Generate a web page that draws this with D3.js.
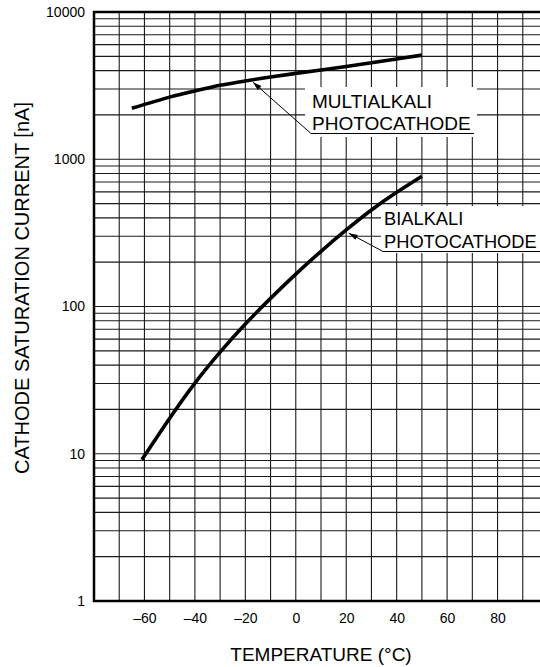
<!DOCTYPE html>
<html><head><meta charset="utf-8">
<script src="https://cdn.jsdelivr.net/npm/d3@7/dist/d3.min.js"></script>
<style>body{margin:0;background:#fff} svg{display:block;font-family:"Liberation Sans",Arial,Helvetica,sans-serif}</style>
</head><body><svg id="c" width="540" height="667"></svg>
<script>
// ---- data ----
const bialkaliTemps = [-61,-50,-40,-30,-20,-10,0,10,20,30,40,50];
const bialkaliValues = [9.1,17.4,30.2,49,76,113.5,166,237,331,452,596,767];
const multiTemps = [-65,-50,-40,-30,-20,-10,0,10,20,30,40,50];
const multiValues = [2218,2642,2911,3177,3404,3622,3828,4036,4266,4519,4797,5093];
const xTickValues = [-60,-40,-20,0,20,40,60,80];
const yTickValues = [1,10,100,1000,10000];
const xLabel = "TEMPERATURE (\u00B0C)";
const yLabel = "CATHODE SATURATION CURRENT [nA]";
const multiLabel = ["MULTIALKALI","PHOTOCATHODE"];
const biLabel = ["BIALKALI","PHOTOCATHODE"];

const svg = d3.select("#c");
const x = d3.scaleLinear().domain([-80,100]).range([94,548]);
const y = d3.scaleLog().domain([1,10000]).range([601,12]);

// grid
const vGrid = d3.range(-70,101,10);
const hGrid = [];
for (let k=0;k<4;k++) for (let m=2;m<=9;m++) hGrid.push(m*Math.pow(10,k));
const g = svg.append("g").attr("stroke","#1a1a1a").attr("stroke-width",1.1);
g.selectAll(".v").data(vGrid).join("line")
  .attr("x1",d=>x(d)).attr("x2",d=>x(d)).attr("y1",y(10000)).attr("y2",y(1));
g.selectAll(".h").data(hGrid.concat([10,100,1000])).join("line")
  .attr("x1",x(-80)).attr("x2",x(100)).attr("y1",d=>y(d)).attr("y2",d=>y(d));

// white label backgrounds
svg.append("rect").attr("x",305).attr("y",87).attr("width",172).attr("height",50).attr("fill","#fff");
svg.append("rect").attr("x",381).attr("y",206).attr("width",170).attr("height",47).attr("fill","#fff");

// curves
const line = d3.line().x(d=>x(d[0])).y(d=>y(d[1])).curve(d3.curveNatural);
svg.append("path").datum(multiTemps.map((t,i)=>[t,multiValues[i]]))
  .attr("d",line).attr("fill","none").attr("stroke","#000").attr("stroke-width",3.6);
svg.append("path").datum(bialkaliTemps.map((t,i)=>[t,bialkaliValues[i]]))
  .attr("d",line).attr("fill","none").attr("stroke","#000").attr("stroke-width",3.6);

// annotations
function annot(lines, tx, b1, b2, fs, tipT, tipV, ulEnd){
  const tipX = x(tipT), tipY = y(tipV)+3;
  const lx = tx-1, ly = b2+3.5;
  svg.append("text").attr("x",tx).attr("y",b1).attr("font-size",fs).text(lines[0]);
  svg.append("text").attr("x",tx).attr("y",b2).attr("font-size",fs).text(lines[1]);
  svg.append("path").attr("d",`M${tipX},${tipY}L${lx},${ly}L${ulEnd},${ly}`)
    .attr("fill","none").attr("stroke","#000").attr("stroke-width",1);
  const ang = Math.atan2(ly-tipY, lx-tipX);
  const L=9, W=2.8;
  const bx = tipX+L*Math.cos(ang), by = tipY+L*Math.sin(ang);
  svg.append("path").attr("d",`M${tipX},${tipY}L${bx - W*Math.sin(ang)},${by + W*Math.cos(ang)}L${bx + W*Math.sin(ang)},${by - W*Math.cos(ang)}Z`)
    .attr("fill","#000");
}
annot(multiLabel, 312, 108, 130, 19, -17, 3500, 474);
annot(biLabel, 384, 225, 248, 18.3, 21, 330, 560);

// frame
const f = svg.append("g").attr("stroke","#000").attr("stroke-width",2.5).attr("fill","none");
f.append("line").attr("x1",x(-80)).attr("x2",x(-80)).attr("y1",y(10000)-1).attr("y2",y(1)+1);
f.append("line").attr("x1",x(-80)-1).attr("x2",x(100)).attr("y1",y(1)).attr("y2",y(1));
f.append("line").attr("x1",x(-80)-1).attr("x2",x(100)).attr("y1",y(10000)).attr("y2",y(10000));

// axes labels
const xAxis = d3.axisBottom(x).tickValues(xTickValues).tickSize(0).tickPadding(12)
  .tickFormat(d=>d<0?"\u2013"+Math.abs(d):String(d));
const xa = svg.append("g").attr("transform",`translate(0,${y(1)})`).call(xAxis);
xa.select(".domain").remove();
xa.selectAll("text").attr("font-size",14).attr("font-family","Liberation Sans, Arial, sans-serif").attr("fill","#000");

const yAxis = d3.axisLeft(y).tickValues(yTickValues).tickSize(0).tickPadding(9)
  .tickFormat(d=>String(d));
const ya = svg.append("g").attr("transform",`translate(${x(-80)},0)`).call(yAxis);
ya.select(".domain").remove();
ya.selectAll("text").attr("font-size",14).attr("font-family","Liberation Sans, Arial, sans-serif").attr("fill","#000");

svg.append("text").attr("x",(x(-80)+x(100))/2).attr("y",661).attr("text-anchor","middle")
  .attr("font-size",19).text(xLabel);
svg.append("text").attr("transform",`translate(29,288) rotate(-90)`)
  .attr("text-anchor","middle").attr("font-size",20).text(yLabel);
</script></body></html>
